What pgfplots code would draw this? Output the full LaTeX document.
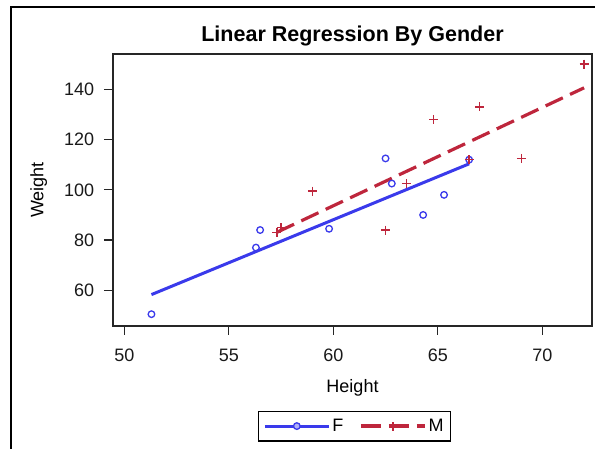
\documentclass[border=0pt]{standalone}
\usepackage{pgfplots}
\pgfplotsset{compat=1.18}
\usepackage{fontspec}
\setmainfont{Liberation Sans}
\setsansfont{Liberation Sans}

\definecolor{fblue}{RGB}{58,58,235}
\definecolor{mred}{RGB}{190,38,60}

% Class data: height and weight by sex
\pgfplotstableread{
x y
56.5 84.0
65.3 98.0
62.8 102.5
59.8 84.5
62.5 112.5
51.3 50.5
64.3 90.0
56.3 77.0
66.5 112.0
}\females
\pgfplotstableread{
x y
69.0 112.5
63.5 102.5
57.3 83.0
62.5 84.0
59.0 99.5
72.0 150.0
64.8 128.0
67.0 133.0
57.5 85.0
66.5 112.0
}\males

\begin{document}
\begin{tikzpicture}[x=1bp,y=1bp]
\path[use as bounding box] (0,0) rectangle (595,449);
% outer frame
\draw[line width=2bp] (11,0) -- (11,442) -- (600,442);
\begin{axis}[
  at={(113bp,123bp)}, anchor=south west,
  scale only axis, width=479bp, height=272bp,
  xmin=49.46, xmax=72.38, ymin=45.8, ymax=154.07,
  xtick={50,55,60,65,70}, ytick={60,80,100,120,140},
  tick align=outside, major tick length=9bp,
  xtick pos=bottom, ytick pos=left,
  axis line style={line width=1.2bp, black!85},
  every tick/.style={line width=1.2bp, black!85},
  font=\fontsize{18bp}{20bp}\selectfont,
  ticklabel style={font=\fontsize{18bp}{20bp}\selectfont, black!90},
  /pgf/number format/assume math mode=true,
  xticklabel style={anchor=base, inner sep=0pt, yshift=-27bp},
  yticklabel style={anchor=east, inner sep=0pt, xshift=-9.7bp},
  title={\fontsize{21.5bp}{24bp}\selectfont\bfseries Linear Regression By Gender},
  title style={at={(axis description cs:0.5,1)}, anchor=base, yshift=7bp},
  xlabel={Height}, ylabel={Weight},
  xlabel style={at={(axis description cs:0.5,-0.2463)}, anchor=base},
  ylabel style={at={(axis description cs:-0.1455,0.5)}, anchor=base, rotate=0},
  legend columns=2,
  legend style={at={(axis description cs:0.504,-0.368)}, anchor=center,
    draw=black, line width=1.2bp, font=\fontsize{18bp}{20bp}\selectfont,
    inner xsep=5bp, inner ysep=6bp,
    /tikz/every even column/.append style={column sep=14bp}},
]
% observations
\addplot[only marks, mark=o, mark size=3.3bp, draw=fblue, line width=1.3bp, forget plot] table {\females};
\addplot[only marks, mark=+, mark size=4.5bp, draw=mred, line width=1.5bp, forget plot] table {\males};
% least-squares fits
\addplot[fblue, line width=3bp, no markers,
  legend image code/.code={%
    \draw[fblue, line width=3bp] (0bp,0bp) -- (64bp,0bp);
    \draw[fblue, line width=1.3bp, fill=fblue!40] (32bp,0bp) circle (3.3bp);}]
  coordinates {(51.3,58.302) (66.5,110.353)};
\addlegendentry{F}
\addplot[mred, line width=3.2bp, dash pattern=on 19bp off 8bp, no markers,
  legend image code/.code={%
    \draw[mred, line width=3.2bp, dash pattern=on 20bp off 8bp] (0bp,0bp) -- (64bp,0bp);
    \draw[mred, line width=1.5bp] (32bp,-4.5bp) -- (32bp,4.5bp);}]
  coordinates {(57.3,83.088) (72.0,140.602)};
\addlegendentry{M}
\end{axis}
\end{tikzpicture}
\end{document}
